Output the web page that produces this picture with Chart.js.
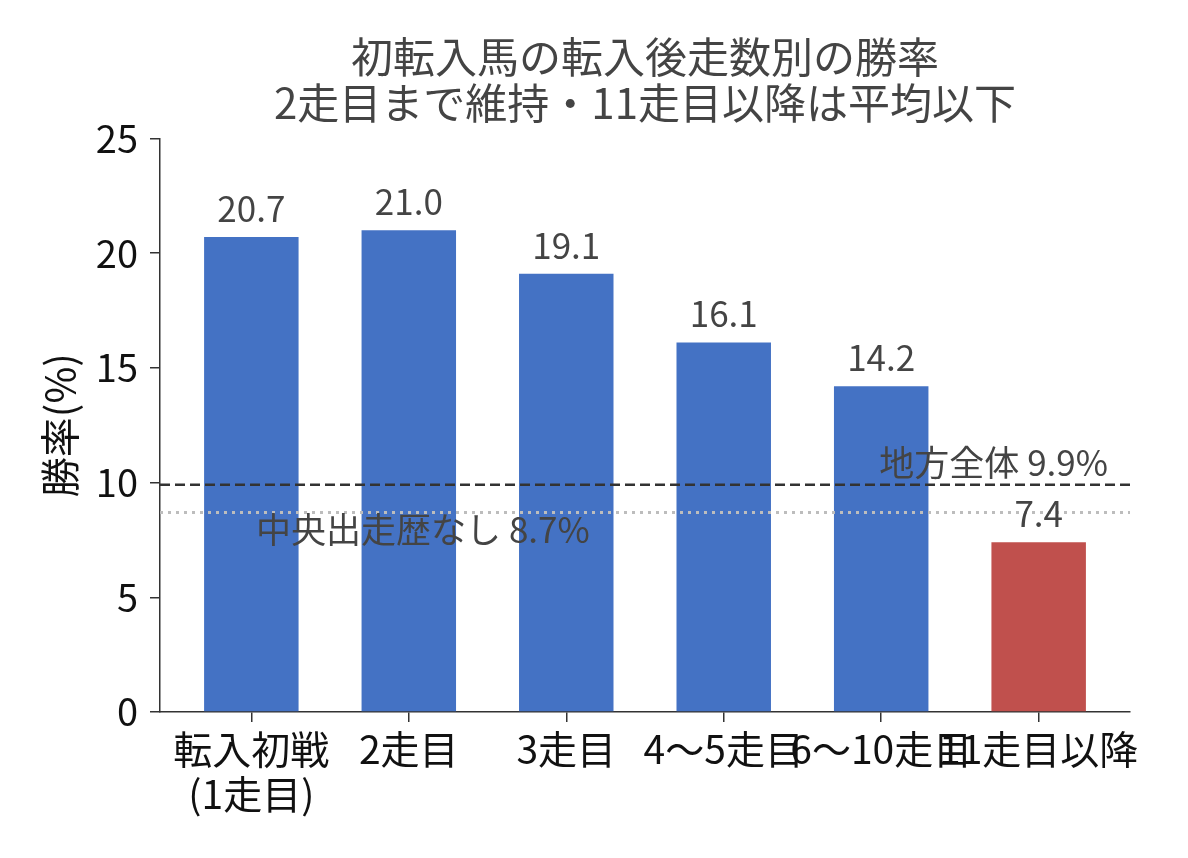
<!DOCTYPE html>
<html lang="ja">
<head>
<meta charset="utf-8">
<title>初転入馬の転入後走数別の勝率</title>
<script src="https://cdn.jsdelivr.net/npm/chart.js@4.4.1/dist/chart.umd.min.js"></script>
<style>
    body { margin: 0; background: #fff; }
    #wrap { width: 1188px; height: 858px; }
</style>
</head>
<body>
<div id="wrap"><canvas id="winChart" width="1188" height="858"></canvas></div>
<script>
// Data
const categories = [['転入初戦', '(1走目)'], '2走目', '3走目', '4〜5走目', '6〜10走目', '11走目以降'];
const winRates = [20.7, 21.0, 19.1, 16.1, 14.2, 7.4];
const barColors = ['#4472C4', '#4472C4', '#4472C4', '#4472C4', '#4472C4', '#C0504D'];
const localAverage = 9.9;      // 地方全体
const noCentralAverage = 8.7;  // 中央出走歴なし
const yTicks = [0, 5, 10, 15, 20, 25];

const FONT = '"Noto Sans CJK JP", "Noto Sans", sans-serif';
const X_MIN = -0.58;
const X_MAX = 5.58;

// Value labels and reference-line captions
const labelPlugin = {
    id: 'labelPlugin',
    afterDatasetsDraw(chart) {
        const ctx = chart.ctx;
        const xs = chart.scales.x;
        const ys = chart.scales.y;
        ctx.save();
        ctx.fillStyle = '#444';
        ctx.font = '35px ' + FONT;
        ctx.textAlign = 'center';
        ctx.textBaseline = 'bottom';
        winRates.forEach((v, i) => {
            ctx.fillText(v.toFixed(1), xs.getPixelForValue(i), ys.getPixelForValue(v) - 11);
        });

        ctx.textAlign = 'right';
        ctx.textBaseline = 'bottom';
        ctx.fillText('地方全体 ' + localAverage + '%', xs.getPixelForValue(5.44), ys.getPixelForValue(localAverage + 0.2));

        ctx.textAlign = 'left';
        ctx.textBaseline = 'top';
        ctx.fillText('中央出走歴なし ' + noCentralAverage + '%', xs.getPixelForValue(0.03), ys.getPixelForValue(noCentralAverage));
        ctx.restore();
    }
};

const ctx = document.getElementById('winChart').getContext('2d');
const chart = new Chart(ctx, {
    data: {
        datasets: [
            {
                type: 'line',
                data: [{ x: X_MIN, y: localAverage }, { x: X_MAX, y: localAverage }],
                borderColor: '#333',
                borderWidth: 2.5,
                borderDash: [10, 5],
                pointRadius: 0,
                order: 0
            },
            {
                type: 'line',
                data: [{ x: X_MIN, y: noCentralAverage }, { x: X_MAX, y: noCentralAverage }],
                borderColor: '#bdbdbd',
                borderWidth: 3,
                borderDash: [3, 5],
                pointRadius: 0,
                order: 0
            },
            {
                type: 'bar',
                data: winRates.map((v, i) => ({ x: i, y: v })),
                backgroundColor: barColors,
                barPercentage: 0.6,
                categoryPercentage: 1.0,
                order: 1
            }
        ]
    },
    options: {
        responsive: false,
        devicePixelRatio: 1,
        animation: false,
        layout: { padding: { left: 0, right: 58, top: 0, bottom: 0 } },
        plugins: {
            legend: { display: false },
            tooltip: { enabled: false },
            title: {
                display: true,
                fullSize: false,
                text: ['初転入馬の転入後走数別の勝率', '2走目まで維持・11走目以降は平均以下'],
                color: '#444',
                font: { family: FONT, size: 42, weight: 'normal', lineHeight: 1.1 },
                padding: { top: 34, bottom: 12 }
            }
        },
        scales: {
            x: {
                type: 'linear',
                min: X_MIN,
                max: X_MAX,
                offset: false,
                afterBuildTicks: (scale) => {
                    scale.ticks = categories.map((c, i) => ({ value: i }));
                },
                afterFit: (scale) => { scale.height = 146; },
                ticks: {
                    callback: (value) => categories[value],
                    color: '#111',
                    font: { family: FONT, size: 39, lineHeight: 1.15 },
                    padding: 5,
                    maxRotation: 0,
                    autoSkip: false
                },
                grid: { drawOnChartArea: false, offset: false, tickLength: 10, color: '#333', lineWidth: 1.5 },
                border: { color: '#333', width: 1.5 }
            },
            y: {
                min: 0,
                max: 25,
                afterBuildTicks: (scale) => {
                    scale.ticks = yTicks.map(v => ({ value: v }));
                },
                afterFit: (scale) => { scale.width = 160; },
                ticks: {
                    color: '#111',
                    font: { family: FONT, size: 38 },
                    padding: 12
                },
                grid: { drawOnChartArea: false, tickLength: 10, color: '#333', lineWidth: 1.5 },
                border: { color: '#333', width: 1.5 },
                title: {
                    display: true,
                    text: '勝率(%)',
                    color: '#111',
                    font: { family: FONT, size: 40 },
                    padding: { top: 36, bottom: 0 }
                }
            }
        }
    },
    plugins: [labelPlugin]
});
</script>
</body>
</html>
